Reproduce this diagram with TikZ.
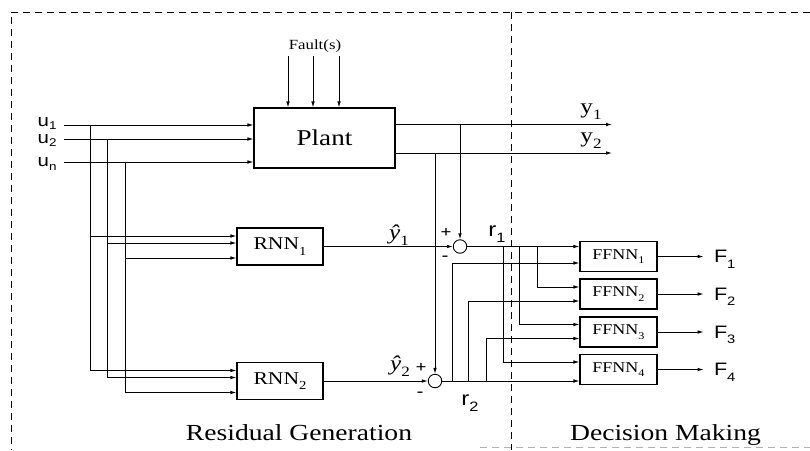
\documentclass[tikz,border=0pt]{standalone}
\usepackage{fontspec}
\setmainfont{Liberation Serif}[FakeStretch=1.2]
\setsansfont{Liberation Sans}[FakeStretch=1.2]
\usetikzlibrary{
    arrows.meta,
    calc
}
\newcommand\lsub[1]{\raisebox{-0.32em}{\scalebox{0.68}{#1}}}
\tikzset{
  arr/.style={-{Latex[length=6pt,width=3.6pt]}},
  blk/.style={
    draw,
    line width=1.1pt,
    minimum width=86pt,
    minimum height=37pt,
    inner sep=0pt,
    font=\fontsize{18}{20}\selectfont
  },
  ffblk/.style={
    blk,
    minimum width=77pt,
    minimum height=30pt,
    font=\fontsize{15}{17}\selectfont
  },
  summer/.style={draw, circle, minimum size=13.5pt, inner sep=0pt},
  sig/.style={font=\sffamily\fontsize{18}{20}\selectfont, inner sep=0pt},
  est/.style={font=\fontsize{21}{23}\selectfont, inner sep=0pt},
  sgn/.style={font=\bfseries\fontsize{16}{18}\selectfont, inner sep=0pt},
  frame/.style={dash pattern=on 7pt off 5pt, line width=0.8pt},
  title/.style={font=\fontsize{23}{25}\selectfont, inner sep=0pt}
}

\begin{document}
\begin{tikzpicture}[x=1pt,y=-1pt,line width=0.9pt]
\useasboundingbox (0,0) rectangle (810,450);
% dashed frame
\draw[frame] (810,12) -- (11,12) -- (11,450);
\draw[frame] (511,12) -- (511,450);
\draw[frame,gray!60] (480,447) -- (810,447);
% blocks
\node[blk, minimum width=141pt, minimum height=60pt,
      font=\fontsize{22.6}{24}\selectfont] (plant) at (324.5,138) {Plant};
\node[blk] (rnn1) at (280,246.5) {RNN\lsub{1}};
\node[blk] (rnn2) at (280,381) {RNN\lsub{2}};
\node[summer] (sum1) at (460,246.5) {};
\node[summer] (sum2) at (435,381) {};
% faults
\node[font=\fontsize{14}{16}\selectfont] (fault) at (315,46) {Fault(s)};
\foreach \fx in {-36.5,-11.5,14.5}
  \draw[arr] ($(plant.north)+(\fx,-51)$) -- ($(plant.north)+(\fx,0)$);
% inputs and taps to the RNNs
\foreach \k/\yy/\by/\tx/\dy in {1/125/126/90/-10.5, 2/139/143/107/-3.5,
                                n/162/166.5/125/11.5} {
  \node[sig, font=\sffamily\fontsize{17}{19}\selectfont, anchor=base east]
    (u\k) at (57,\by) {u\raisebox{-0.22em}{\scalebox{0.66}{\k}}};
  \coordinate (in\k) at (64,\yy);
  \coordinate (tap\k) at (\tx,\yy);
  \draw[arr] (in\k) -- (plant.west |- in\k);
  \draw[arr] (tap\k) |- ($(rnn1.west)+(0,\dy)$);
  \draw[arr] (tap\k) |- ($(rnn2.west)+(0,\dy)$);
}
% plant outputs
\coordinate (y1end) at (612,124.5);
\coordinate (y2end) at (612,153);
\draw[arr] ($(plant.east)+(0,-13.5)$) coordinate (y1out) -- (y1end);
\draw[arr] ($(plant.east)+(0,15)$) coordinate (y2out) -- (y2end);
\node[est, anchor=base] (y1) at (591,113) {y\lsub{1}};
\node[est, anchor=base] (y2) at (591,142) {y\lsub{2}};
\draw[arr] (sum1 |- y1out) -- (sum1.north);
\draw[arr] (sum2 |- y2out) -- (sum2.north);
% estimates into the summers
\draw[arr] (rnn1.east) -- (sum1.west);
\draw[arr] (rnn2.east) -- (sum2.west);
\node[est, anchor=base] (yh1) at (399,239) {\itshape ŷ\lsub{\upshape 1}};
\node[est, anchor=base] (yh2) at (400,370) {\itshape ŷ\lsub{\upshape 2}};
\node[sgn] (p1) at (446,233) {+};
\node[sgn] (m1) at (445,258) {-};
\node[sgn] (p2) at (421,368) {+};
\node[sgn] (m2) at (420,394) {-};
\node[sig, font=\sffamily\fontsize{20}{22}\selectfont, anchor=base] (r1) at (497,236) {r\lsub{1}};
\node[sig, font=\sffamily\fontsize{20}{22}\selectfont, anchor=base] (r2) at (470,405) {r\lsub{2}};
% decision networks
\foreach \i/\cy/\ya/\yb in {1/256.5/246.5/263, 2/294/287/301,
                           3/332/324.5/338.5, 4/369.5/362/381} {
  \node[ffblk] (ffnn\i) at (618.5,\cy) {FFNN\lsub{\i}};
  \coordinate (ina\i) at ($(ffnn\i.west)+(0,\ya-\cy)$);
  \coordinate (inb\i) at ($(ffnn\i.west)+(0,\yb-\cy)$);
  \coordinate (fend\i) at ($(ffnn\i.east)+(46,0)$);
  \draw[arr] (ffnn\i.east) -- (fend\i);
  \node[sig, anchor=base west] (f\i) at ($(fend\i)+(10,6)$) {F\lsub{\i}};
}
\draw[arr] (sum1.east) -- (ina1);
\draw[arr] (sum2.east) -- (inb4);
\foreach \i/\tx in {2/537, 3/519, 4/503} {
  \coordinate (ra\i) at (\tx,246.5);
  \draw[arr] (ra\i) |- (ina\i);
}
\foreach \i/\tx in {1/452, 2/468, 3/486} {
  \coordinate (rb\i) at (\tx,381);
  \draw[arr] (rb\i) |- (inb\i);
}
% section titles
\node[title, anchor=base] (resgen) at (299,440) {Residual Generation};
\node[title, anchor=base] (decmak) at (665.5,440) {Decision Making};
\end{tikzpicture}
\end{document}
